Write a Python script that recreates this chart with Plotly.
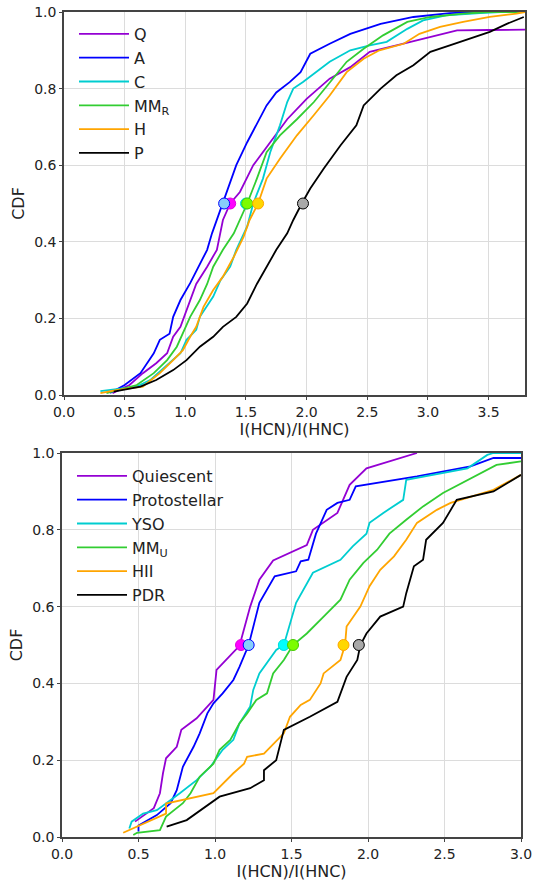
import plotly.graph_objects as go

# ---------------- top panel data (I(HCN)/I(HNC) CDFs) ----------------
top_names = ["Q", "A", "C", "MM<sub>R</sub>", "H", "P"]
top_colors = ["#9400d3", "#0000ff", "#00cdd0", "#32cd32", "#ffa500", "#000000"]

Q_x = [0.40, 0.54, 0.65, 0.76, 0.85, 0.90, 0.96, 1.04, 1.09, 1.18, 1.26, 1.31, 1.37, 1.45, 1.56, 1.70, 1.84, 2.00, 2.19, 2.36, 2.52, 2.74, 2.91, 3.07, 3.24, 3.50, 3.80]
Q_y = [0.005, 0.026, 0.057, 0.083, 0.109, 0.152, 0.178, 0.248, 0.290, 0.335, 0.379, 0.457, 0.500, 0.530, 0.600, 0.660, 0.720, 0.773, 0.826, 0.856, 0.896, 0.913, 0.926, 0.939, 0.952, 0.953, 0.954]

A_x = [0.38, 0.50, 0.63, 0.74, 0.79, 0.87, 0.90, 0.96, 1.04, 1.11, 1.18, 1.22, 1.26, 1.31, 1.42, 1.51, 1.59, 1.67, 1.75, 1.86, 1.95, 2.03, 2.19, 2.36, 2.61, 2.88, 3.18, 3.40, 3.80]
A_y = [0.005, 0.026, 0.057, 0.109, 0.144, 0.160, 0.204, 0.248, 0.292, 0.335, 0.379, 0.422, 0.457, 0.500, 0.600, 0.660, 0.710, 0.756, 0.790, 0.817, 0.843, 0.891, 0.917, 0.943, 0.969, 0.987, 0.997, 1.000, 1.000]

C_x = [0.30, 0.60, 0.71, 0.87, 0.96, 1.01, 1.09, 1.12, 1.23, 1.29, 1.37, 1.42, 1.51, 1.56, 1.64, 1.70, 1.78, 1.84, 1.89, 1.97, 2.08, 2.19, 2.36, 2.52, 2.66, 2.83, 2.96, 3.15, 3.43, 3.60, 3.80]
C_y = [0.010, 0.022, 0.039, 0.083, 0.109, 0.144, 0.170, 0.204, 0.257, 0.300, 0.335, 0.379, 0.440, 0.500, 0.565, 0.634, 0.704, 0.765, 0.800, 0.817, 0.843, 0.870, 0.900, 0.913, 0.922, 0.956, 0.978, 0.991, 0.997, 1.000, 1.000]

MM_x = [0.35, 0.60, 0.74, 0.85, 0.93, 0.98, 1.04, 1.12, 1.18, 1.23, 1.31, 1.40, 1.45, 1.51, 1.59, 1.67, 1.78, 1.92, 2.06, 2.19, 2.33, 2.47, 2.63, 2.83, 3.02, 3.29, 3.50, 3.80]
MM_y = [0.005, 0.026, 0.057, 0.091, 0.126, 0.161, 0.204, 0.248, 0.290, 0.335, 0.379, 0.422, 0.457, 0.500, 0.565, 0.634, 0.678, 0.720, 0.765, 0.817, 0.870, 0.904, 0.939, 0.974, 0.987, 0.996, 1.000, 1.000]

H_x = [0.30, 0.43, 0.65, 0.79, 0.90, 0.98, 1.04, 1.09, 1.15, 1.23, 1.31, 1.40, 1.48, 1.53, 1.60, 1.67, 1.78, 1.92, 2.06, 2.19, 2.33, 2.47, 2.60, 2.80, 2.93, 3.10, 3.29, 3.51, 3.73, 3.80]
H_y = [0.005, 0.013, 0.022, 0.057, 0.091, 0.117, 0.152, 0.178, 0.230, 0.274, 0.309, 0.361, 0.413, 0.457, 0.500, 0.565, 0.617, 0.678, 0.731, 0.782, 0.843, 0.878, 0.900, 0.917, 0.943, 0.961, 0.974, 0.987, 0.996, 1.000]

P_x = [0.41, 0.63, 0.76, 0.90, 1.01, 1.12, 1.23, 1.31, 1.42, 1.51, 1.59, 1.67, 1.75, 1.84, 1.89, 1.96, 2.03, 2.14, 2.28, 2.41, 2.47, 2.61, 2.74, 2.88, 3.02, 3.18, 3.35, 3.51, 3.65, 3.79]
P_y = [0.009, 0.022, 0.039, 0.065, 0.091, 0.126, 0.152, 0.178, 0.204, 0.239, 0.290, 0.335, 0.379, 0.422, 0.457, 0.500, 0.539, 0.591, 0.652, 0.704, 0.756, 0.800, 0.835, 0.861, 0.896, 0.913, 0.930, 0.948, 0.969, 0.987]

top_x = [Q_x, A_x, C_x, MM_x, H_x, P_x]
top_y = [Q_y, A_y, C_y, MM_y, H_y, P_y]

top_median_x = [1.37, 1.32, 1.50, 1.51, 1.60, 1.97]

# ---------------- bottom panel data ----------------
bot_names = ["Quiescent", "Protostellar", "YSO", "MM<sub>U</sub>", "HII", "PDR"]
bot_colors = ["#9400d3", "#0000ff", "#00cdd0", "#32cd32", "#ffa500", "#000000"]

Qui_x = [0.477, 0.60, 0.64, 0.66, 0.68, 0.75, 0.78, 0.88, 0.99, 1.01, 1.16, 1.23, 1.29, 1.38, 1.60, 1.64, 1.80, 1.88, 1.99, 2.32]
Qui_y = [0.040, 0.075, 0.114, 0.166, 0.205, 0.235, 0.279, 0.309, 0.357, 0.435, 0.498, 0.600, 0.670, 0.720, 0.760, 0.800, 0.844, 0.917, 0.960, 1.000]

Pro_x = [0.50, 0.50, 0.62, 0.71, 0.75, 0.79, 0.86, 0.90, 0.95, 0.99, 1.05, 1.12, 1.16, 1.22, 1.29, 1.34, 1.39, 1.53, 1.56, 1.61, 1.66, 1.73, 1.80, 1.88, 1.92, 2.32, 2.67, 2.82, 3.00]
Pro_y = [0.014, 0.030, 0.057, 0.088, 0.122, 0.183, 0.235, 0.270, 0.322, 0.348, 0.374, 0.409, 0.443, 0.500, 0.610, 0.644, 0.679, 0.692, 0.718, 0.722, 0.790, 0.852, 0.870, 0.878, 0.913, 0.939, 0.965, 0.987, 0.987]

YSO_x = [0.44, 0.455, 0.53, 0.62, 0.77, 0.88, 0.97, 1.05, 1.12, 1.16, 1.23, 1.25, 1.29, 1.32, 1.40, 1.45, 1.53, 1.64, 1.82, 1.90, 1.99, 2.01, 2.10, 2.23, 2.25, 2.65, 2.78, 2.82, 3.00]
YSO_y = [0.022, 0.040, 0.061, 0.070, 0.114, 0.148, 0.183, 0.227, 0.253, 0.296, 0.340, 0.383, 0.426, 0.443, 0.487, 0.500, 0.610, 0.688, 0.722, 0.757, 0.790, 0.818, 0.844, 0.878, 0.930, 0.960, 0.995, 1.000, 1.000]

MMU_x = [0.466, 0.49, 0.64, 0.68, 0.79, 0.84, 0.90, 0.99, 1.03, 1.10, 1.16, 1.21, 1.27, 1.34, 1.38, 1.45, 1.51, 1.60, 1.71, 1.82, 1.88, 1.97, 2.06, 2.14, 2.25, 2.36, 2.49, 2.65, 2.84, 3.00]
MMU_y = [0.005, 0.011, 0.018, 0.053, 0.088, 0.114, 0.157, 0.191, 0.227, 0.253, 0.296, 0.322, 0.357, 0.374, 0.426, 0.461, 0.500, 0.530, 0.574, 0.618, 0.670, 0.714, 0.748, 0.790, 0.826, 0.861, 0.896, 0.930, 0.969, 0.978]

HII_x = [0.40, 0.68, 0.68, 0.99, 1.12, 1.19, 1.21, 1.32, 1.45, 1.49, 1.56, 1.62, 1.69, 1.71, 1.82, 1.85, 1.86, 1.95, 2.01, 2.08, 2.17, 2.25, 2.32, 2.45, 2.54, 2.82, 3.00]
HII_y = [0.011, 0.061, 0.087, 0.114, 0.166, 0.191, 0.209, 0.217, 0.270, 0.313, 0.344, 0.357, 0.400, 0.426, 0.461, 0.500, 0.548, 0.600, 0.653, 0.696, 0.731, 0.774, 0.818, 0.852, 0.870, 0.904, 0.943]

PDR_x = [0.684, 0.815, 1.03, 1.23, 1.32, 1.32, 1.40, 1.45, 1.62, 1.80, 1.86, 1.90, 1.93, 1.95, 1.99, 2.08, 2.23, 2.25, 2.30, 2.36, 2.38, 2.49, 2.58, 2.82, 3.00]
PDR_y = [0.027, 0.044, 0.105, 0.127, 0.148, 0.174, 0.200, 0.279, 0.313, 0.352, 0.417, 0.443, 0.461, 0.500, 0.530, 0.574, 0.600, 0.635, 0.705, 0.722, 0.774, 0.818, 0.878, 0.900, 0.943]

bot_x = [Qui_x, Pro_x, YSO_x, MMU_x, HII_x, PDR_x]
bot_y = [Qui_y, Pro_y, YSO_y, MMU_y, HII_y, PDR_y]

bot_median_x = [1.17, 1.22, 1.45, 1.51, 1.84, 1.94]

median_fill = ["#ff00ff", "#87cefa", "#00ffff", "#7cfc00", "#ffd700", "#a9a9a9"]
median_edge = ["#e000e0", "#0000ff", "#00dddd", "#44cc00", "#ffa500", "#000000"]

x_ticks_top = [0.0, 0.5, 1.0, 1.5, 2.0, 2.5, 3.0, 3.5]
x_ticks_bot = [0.0, 0.5, 1.0, 1.5, 2.0, 2.5, 3.0]
y_ticks = [0.0, 0.2, 0.4, 0.6, 0.8, 1.0]

W, H = 543, 882
fig = go.Figure()

for i in range(6):
    fig.add_trace(go.Scatter(x=top_x[i], y=top_y[i], mode="lines", name=top_names[i],
                             line=dict(color=top_colors[i], width=1.8),
                             xaxis="x", yaxis="y", legend="legend"))
for i in [2, 0, 1, 3, 4, 5]:
    fig.add_trace(go.Scatter(x=[top_median_x[i]], y=[0.5], mode="markers", showlegend=False,
                             marker=dict(size=11, color=median_fill[i],
                                         line=dict(color=median_edge[i], width=1)),
                             xaxis="x", yaxis="y"))

for i in range(6):
    fig.add_trace(go.Scatter(x=bot_x[i], y=bot_y[i], mode="lines", name=bot_names[i],
                             line=dict(color=bot_colors[i], width=1.8),
                             xaxis="x2", yaxis="y2", legend="legend2"))
for i in range(6):
    fig.add_trace(go.Scatter(x=[bot_median_x[i]], y=[0.5], mode="markers", showlegend=False,
                             marker=dict(size=11, color=median_fill[i],
                                         line=dict(color=median_edge[i], width=1)),
                             xaxis="x2", yaxis="y2"))

font = dict(family="DejaVu Sans", size=14, color="#222222")
ax_common = dict(showgrid=True, gridcolor="#dcdcdc", gridwidth=1, zeroline=False,
                 showline=True, linecolor="#444444", linewidth=1.5, mirror=True,
                 ticks="outside", ticklen=3, tickcolor="#444444", automargin=False,
                 tickfont=dict(family="DejaVu Sans", size=14, color="#222222"))

fig.update_layout(
    width=W, height=H, margin=dict(l=0, r=0, t=0, b=0, autoexpand=False),
    paper_bgcolor="white", plot_bgcolor="white", font=font,
    xaxis=dict(domain=[64 / W, 525 / W], range=[0, 3.8], tickvals=x_ticks_top,
               ticktext=[f"{v:.1f}" for v in x_ticks_top], anchor="y",
               title=dict(text="I(HCN)/I(HNC)", font=dict(size=16), standoff=4), **ax_common),
    yaxis=dict(domain=[1 - 395 / H, 1 - 12 / H], range=[0, 1.0], tickvals=y_ticks,
               ticktext=[f"{v:.1f}" for v in y_ticks], anchor="x",
               title=dict(text="CDF", font=dict(size=16), standoff=6), **ax_common),
    xaxis2=dict(domain=[62 / W, 521 / W], range=[0, 3.0], tickvals=x_ticks_bot,
                ticktext=[f"{v:.1f}" for v in x_ticks_bot], anchor="y2",
                title=dict(text="I(HCN)/I(HNC)", font=dict(size=16), standoff=4), **ax_common),
    yaxis2=dict(domain=[1 - 837 / H, 1 - 453 / H], range=[0, 1.0], tickvals=y_ticks,
                ticktext=[f"{v:.1f}" for v in y_ticks], anchor="x2",
                title=dict(text="CDF", font=dict(size=16), standoff=6), **ax_common),
    legend=dict(x=74 / W, y=1 - 17 / H, xanchor="left", yanchor="top",
                bgcolor="rgba(0,0,0,0)", font=dict(family="DejaVu Sans", size=16, color="#222222"),
                itemwidth=50, tracegroupgap=0),
    legend2=dict(x=72 / W, y=1 - 459 / H, xanchor="left", yanchor="top",
                 bgcolor="rgba(0,0,0,0)", font=dict(family="DejaVu Sans", size=16, color="#222222"),
                 itemwidth=50, tracegroupgap=0),
)

fig.write_html("out.html")
